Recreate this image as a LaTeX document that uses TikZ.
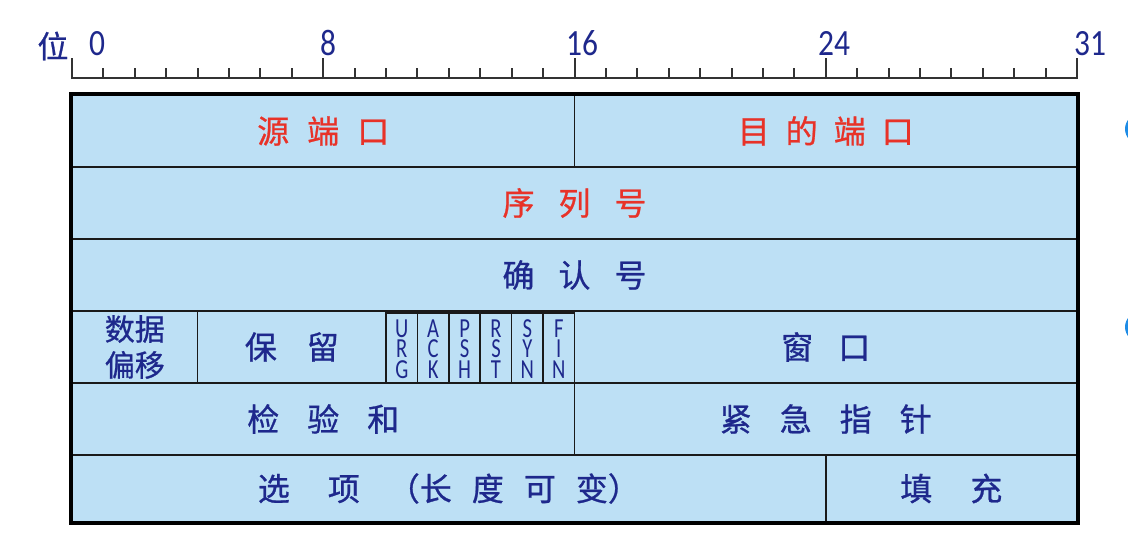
\documentclass[tikz,border=0pt]{standalone}
\usepackage{fontspec}
\usepackage{graphicx}
\newfontfamily\cjk[FakeBold=0.8]{Noto Sans CJK SC}
\newfontfamily\numfont[FakeStretch=0.85]{Carlito}
\newfontfamily\flagfont[FakeStretch=0.75]{Carlito}
\definecolor{cellfill}{HTML}{BDE0F5}
\definecolor{navy}{HTML}{1E288C}
\definecolor{redtxt}{HTML}{E83228}
\definecolor{linecol}{HTML}{1A1A1A}
\definecolor{rulecol}{HTML}{333333}
\definecolor{arccol}{HTML}{1E8CE6}
\newcommand\jg[1]{\hspace{#1pt}}
\newcommand\mkcell[7]{%
  \node[cellbox,#7,minimum width={(#4)-(#2)},minimum height={(#5)-(#3)}]
    (#1) at ({((#2)+(#4))/2},{((#3)+(#5))/2}) {#6};}
\begin{document}
\begin{tikzpicture}[x=1pt,y=-1pt,
  cellbox/.style={draw=linecol, fill=cellfill, line width=1.6pt, inner sep=0pt,
    font=\cjk\fontsize{32}{36}\selectfont, text=navy},
  redtext/.style={text=redtxt},
  twoline/.style={align=center, font=\cjk\fontsize{30}{37}\selectfont},
  flagtext/.style={align=center, font=\flagfont\fontsize{27.5}{20.5}\selectfont},
  ticklab/.style={font=\numfont\fontsize{37}{40}\selectfont, text=navy, inner sep=0pt, anchor=base},
  tickline/.style={draw=rulecol, line width=2pt},
  outer/.style={draw=black, line width=3.6pt}
]
\useasboundingbox (0,0) rectangle (1128,552);
\fill[white] (0,0) rectangle (1128,552);

% ruler
\draw[tickline] (72,78) -- (1077,78);
\foreach \i in {1,...,31} {
  \draw[tickline] ({72+\i*31.40625},78) -- ++(0,-10);
}
\foreach \i in {0,8,16,24,32} {
  \draw[tickline] ({72+\i*31.40625},79) -- ++(0,-21);
}
\node[font=\cjk\fontsize{31}{32}\selectfont, text=navy, inner sep=0pt] (wei) at (53,46) {位};
\node[ticklab] (l0) at (97,55) {0};
\node[ticklab] (l8) at (328,55) {8};
\node[ticklab] (l16) at (582,55) {16};
\node[ticklab] (l24) at (834,55) {24};
\node[ticklab] (l31) at (1090,55) {31};

% row 1
\mkcell{srcport}{72}{95}{574.5}{167}{源\jg{18}端\jg{18}口}{redtext}
\mkcell{dstport}{574.5}{95}{1077}{167}{目\jg{16}的\jg{16}端\jg{16}口}{redtext}
% row 2
\mkcell{seq}{72}{167}{1077}{239}{序\jg{24}列\jg{24}号}{redtext}
% row 3
\mkcell{ack}{72}{239}{1077}{311}{确\jg{24}认\jg{24}号}{}
% row 4
\mkcell{offset}{72}{311}{197.625}{383}{数据\\[-1pt]偏移}{twoline}
\mkcell{resv}{197.625}{311}{386.0625}{383}{保\jg{30}留}{}
\mkcell{furg}{386.0625}{311}{417.46875}{383}{U\\R\\G}{flagtext,yshift=-2pt}
\mkcell{fack}{417.46875}{311}{448.875}{383}{A\\C\\K}{flagtext,yshift=-2pt}
\mkcell{fpsh}{448.875}{311}{480.28125}{383}{P\\S\\H}{flagtext,yshift=-2pt}
\mkcell{frst}{480.28125}{311}{511.6875}{383}{R\\S\\T}{flagtext,yshift=-2pt}
\mkcell{fsyn}{511.6875}{311}{543.09375}{383}{S\\Y\\N}{flagtext,yshift=-2pt}
\mkcell{ffin}{543.09375}{311}{574.5}{383}{F\\I\\N}{flagtext,yshift=-2pt}
\mkcell{window}{574.5}{311}{1077}{383}{窗\jg{25}口}{}
% row 5
\mkcell{checksum}{72}{383}{574.5}{455}{检\jg{28}验\jg{28}和}{}
\mkcell{urgptr}{574.5}{383}{1077}{455}{紧\jg{28}急\jg{28}指\jg{28}针}{}
% row 6
\mkcell{options}{72}{455}{825.75}{522}{选\jg{38}项\jg{28}（长\jg{20}度\jg{20}可\jg{20}变）}{}
\mkcell{padding}{825.75}{455}{1077}{522}{填\jg{38}充}{}

% outer border
\draw[outer] (srcport.north west) rectangle (padding.south east);

% cropped marks at right edge
\begin{scope}
  \clip (0,0) rectangle (1128,552);
  \fill[arccol] (1140,129) circle (15);
  \fill[arccol] (1140,327) circle (15);
\end{scope}
\end{tikzpicture}
\end{document}
